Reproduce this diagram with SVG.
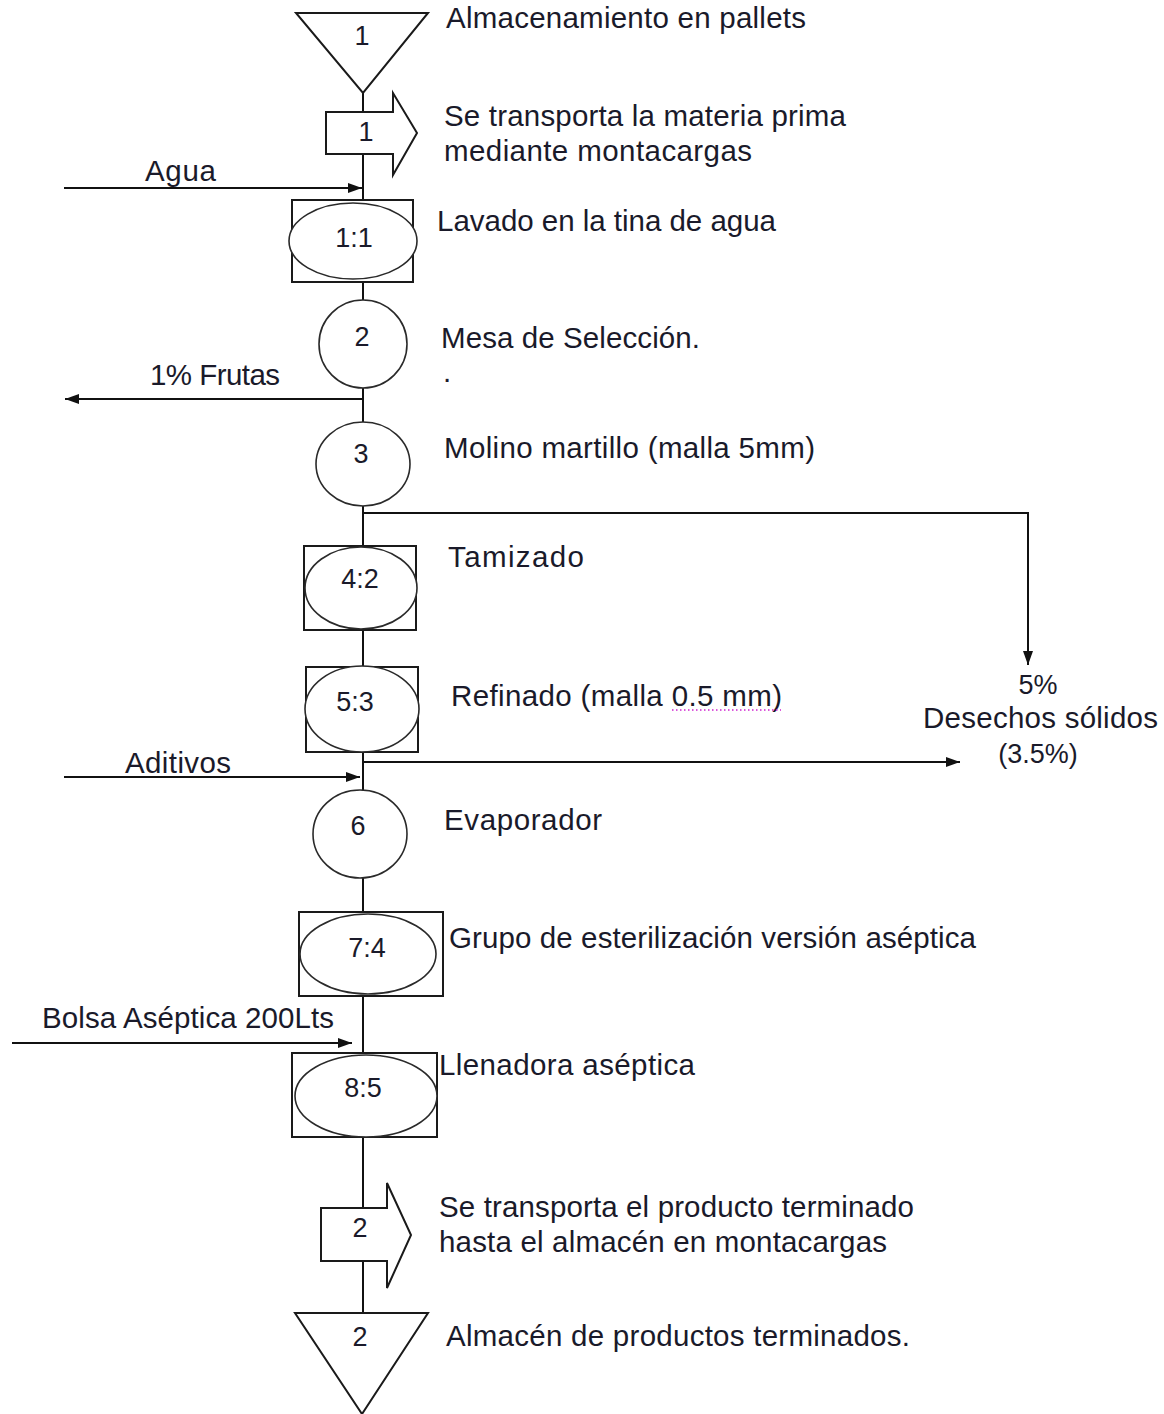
<svg xmlns="http://www.w3.org/2000/svg" width="1164" height="1414" viewBox="0 0 1164 1414">
  <style>
    .shape { fill: #ffffff; stroke: #1a1a1a; stroke-width: 2; }
    .oval { fill: #ffffff; stroke: #2a2a2a; stroke-width: 1.6; }
    .line { fill: none; stroke: #111111; stroke-width: 2; }
    .lbl { font-family: "Liberation Sans", Arial, sans-serif; font-size: 29.5px; fill: #1a1a2a; }
    .num { font-family: "Liberation Sans", Arial, sans-serif; font-size: 27px; fill: #1a1a2a; text-anchor: middle; }
    .spell { stroke: #d020d0; stroke-width: 1.5; stroke-dasharray: 1.5 2.5; fill: none; }
  </style>
  <defs>
    <marker id="arrow" viewBox="0 0 14 10" refX="14" refY="5" markerWidth="14" markerHeight="10" markerUnits="userSpaceOnUse" orient="auto">
      <path d="M0,0 L14,5 L0,10 Z" fill="#111111"/>
    </marker>
  </defs>

  <rect width="1164" height="1414" fill="#ffffff"/>

  <!-- connectors -->
  <g id="connectors">
    <line class="line" x1="363" y1="93" x2="363" y2="1313"/>
    <line class="line" x1="64" y1="188" x2="362" y2="188" marker-end="url(#arrow)"/>
    <line class="line" x1="363" y1="399" x2="65" y2="399" marker-end="url(#arrow)"/>
    <polyline class="line" points="363,513 1028,513 1028,665" marker-end="url(#arrow)"/>
    <line class="line" x1="363" y1="762" x2="960" y2="762" marker-end="url(#arrow)"/>
    <line class="line" x1="64" y1="777" x2="360" y2="777" marker-end="url(#arrow)"/>
    <line class="line" x1="12" y1="1043" x2="352" y2="1043" marker-end="url(#arrow)"/>
  </g>

  <!-- storage: pallets -->
  <g id="storage-1">
    <polygon class="shape" points="296,13 428,13 363,93"/>
    <text class="num" x="362" y="45">1</text>
    <text class="lbl" x="446" y="28" textLength="360">Almacenamiento en pallets</text>
  </g>

  <!-- transport 1 -->
  <g id="transport-1">
    <polygon class="shape" points="326,112 393,112 393,93 417,133 393,175 393,154 326,154"/>
    <text class="num" x="366" y="141">1</text>
    <text class="lbl" x="444" y="126" textLength="402">Se transporta la materia prima</text>
    <text class="lbl" x="444" y="161" textLength="308">mediante montacargas</text>
  </g>

  <g id="input-agua">
    <text class="lbl" x="145" y="181" textLength="71">Agua</text>
  </g>

  <!-- combined 1:1 -->
  <g id="op-1-1">
    <rect class="shape" x="292" y="200" width="121" height="82"/>
    <ellipse class="oval" cx="353" cy="241" rx="64" ry="38"/>
    <text class="num" x="354" y="247">1:1</text>
    <text class="lbl" x="437" y="231" textLength="339">Lavado en la tina de agua</text>
  </g>

  <!-- operation 2 -->
  <g id="op-2">
    <ellipse class="oval" cx="363" cy="344" rx="44" ry="44"/>
    <text class="num" x="362" y="346">2</text>
    <text class="lbl" x="441" y="348" textLength="259">Mesa de Selección.</text>
    <text class="lbl" x="443" y="382" font-size="20">.</text>
  </g>

  <g id="output-frutas">
    <text class="lbl" x="150" y="385" textLength="130">1% Frutas</text>
  </g>

  <!-- operation 3 -->
  <g id="op-3">
    <ellipse class="oval" cx="363" cy="464" rx="47" ry="42"/>
    <text class="num" x="361" y="463">3</text>
    <text class="lbl" x="444" y="458" textLength="371">Molino martillo (malla 5mm)</text>
  </g>

  <!-- combined 4:2 -->
  <g id="op-4-2">
    <rect class="shape" x="304" y="546" width="112" height="84"/>
    <ellipse class="oval" cx="361" cy="588" rx="56" ry="41"/>
    <text class="num" x="360" y="588">4:2</text>
    <text class="lbl" x="448" y="567" textLength="136">Tamizado</text>
  </g>

  <!-- combined 5:3 -->
  <g id="op-5-3">
    <rect class="shape" x="306" y="667" width="112" height="85"/>
    <ellipse class="oval" cx="362" cy="709" rx="57" ry="43"/>
    <text class="num" x="355" y="711">5:3</text>
    <text class="lbl" x="451" y="706" textLength="331">Refinado (malla 0.5 mm)</text>
    <line class="spell" x1="672" y1="710" x2="781" y2="710"/>
  </g>

  <g id="output-desechos">
    <text class="num" x="1038" y="694" font-size="29">5%</text>
    <text class="lbl" x="923" y="728" textLength="235">Desechos sólidos</text>
    <text class="num" x="1038" y="763" font-size="29">(3.5%)</text>
  </g>

  <g id="input-aditivos">
    <text class="lbl" x="125" y="773" textLength="106">Aditivos</text>
  </g>

  <!-- operation 6 -->
  <g id="op-6">
    <ellipse class="oval" cx="360" cy="834" rx="47" ry="44"/>
    <text class="num" x="358" y="835">6</text>
    <text class="lbl" x="444" y="830" textLength="158">Evaporador</text>
  </g>

  <!-- combined 7:4 -->
  <g id="op-7-4">
    <rect class="shape" x="299" y="912" width="144" height="84"/>
    <ellipse class="oval" cx="368" cy="954" rx="68" ry="40"/>
    <text class="num" x="367" y="957">7:4</text>
    <text class="lbl" x="449" y="948" textLength="527">Grupo de esterilización versión aséptica</text>
  </g>

  <g id="input-bolsa">
    <text class="lbl" x="42" y="1028" textLength="292">Bolsa Aséptica 200Lts</text>
  </g>

  <!-- combined 8:5 -->
  <g id="op-8-5">
    <rect class="shape" x="292" y="1053" width="145" height="84"/>
    <ellipse class="oval" cx="366" cy="1096" rx="71" ry="41"/>
    <text class="num" x="363" y="1097">8:5</text>
    <text class="lbl" x="439" y="1075" textLength="256">Llenadora aséptica</text>
  </g>

  <!-- transport 2 -->
  <g id="transport-2">
    <polygon class="shape" points="321,1208 387,1208 387,1183 411,1235 387,1288 387,1261 321,1261"/>
    <text class="num" x="360" y="1237">2</text>
    <text class="lbl" x="439" y="1217" textLength="475">Se transporta el producto terminado</text>
    <text class="lbl" x="439" y="1252" textLength="448">hasta el almacén en montacargas</text>
  </g>

  <!-- storage: finished goods -->
  <g id="storage-2">
    <polygon class="shape" points="295,1313 428,1313 362,1414"/>
    <text class="num" x="360" y="1346">2</text>
    <text class="lbl" x="446" y="1346" textLength="464">Almacén de productos terminados.</text>
  </g>
</svg>
